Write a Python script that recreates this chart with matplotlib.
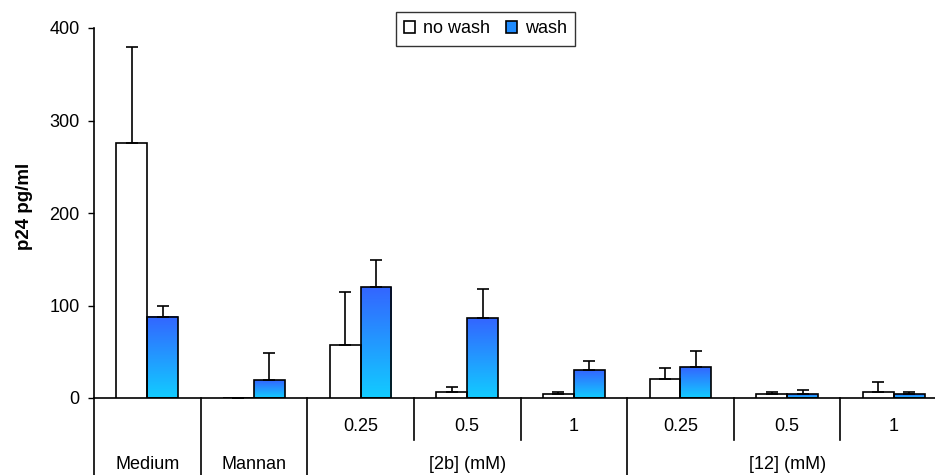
import numpy as np
import matplotlib
matplotlib.use("Agg")
import matplotlib.pyplot as plt
from matplotlib.colors import LinearSegmentedColormap
from matplotlib.patches import Patch

plt.rcParams['font.family'] = ['Liberation Sans', 'DejaVu Sans']
plt.rcParams['font.size'] = 13

# data
sub_labels = ['', '', '0.25', '0.5', '1', '0.25', '0.5', '1']
group_labels = ['Medium', 'Mannan', '[2b] (mM)', '[12] (mM)']
group_spans = [(0, 0), (1, 1), (2, 4), (5, 7)]
no_wash = [276, 0, 57, 7, 4, 21, 4, 7]
no_wash_err = [104, 0, 58, 5, 3, 11, 3, 10]
wash = [88, 19, 120, 86, 30, 33, 4, 4]
wash_err = [11, 30, 29, 32, 10, 18, 5, 3]

blue_grad = LinearSegmentedColormap.from_list('wash', ['#12ccff', '#3366ff'])

fig = plt.figure(figsize=(9.35, 4.75), dpi=100)
ax = fig.add_axes([94 / 935, 77 / 475, 853 / 935, 370 / 475])

x = np.arange(len(no_wash))
w = 0.29

ax.bar(x - w / 2, no_wash, w, facecolor='white', edgecolor='black', linewidth=1.2, zorder=3)
bars = ax.bar(x + w / 2, wash, w, facecolor='none', edgecolor='black', linewidth=1.2, zorder=3)

# gradient fill inside the wash bars
grad = np.linspace(0, 1, 100).reshape(-1, 1)
for b in bars:
    x0, h = b.get_x(), b.get_height()
    if h <= 0:
        continue
    ax.imshow(grad, extent=[x0, x0 + b.get_width(), 0, h], origin='lower',
              aspect='auto', cmap=blue_grad, zorder=2)

ax.errorbar(x - w / 2, no_wash, yerr=[np.zeros(len(x)), no_wash_err], fmt='none',
            ecolor='black', elinewidth=1.2, capsize=4, capthick=1.2, zorder=4)
ax.errorbar(x + w / 2, wash, yerr=[np.zeros(len(x)), wash_err], fmt='none',
            ecolor='black', elinewidth=1.2, capsize=4, capthick=1.2, zorder=4)

ax.set_xlim(-0.5, len(x) - 0.5)
ax.set_ylim(0, 400)
ax.set_yticks([0, 100, 200, 300, 400])
ax.set_xticks([])
ax.tick_params(axis='y', direction='out', length=4.3, width=1, pad=6)
for s in ['top', 'right']:
    ax.spines[s].set_visible(False)
ax.spines['left'].set_linewidth(1.2)
ax.spines['bottom'].set_linewidth(1.2)

ax.set_ylabel('p24 pg/ml', fontweight='bold', fontsize=13.5)
ax.yaxis.set_label_coords(-0.071, 0.519)

# category table below the axis
tr = ax.get_xaxis_transform()
long_seps = [-0.5, 0.5, 1.5, 4.5, 7.5]
short_seps = [2.5, 3.5, 5.5, 6.5]
for sx in long_seps:
    ax.plot([sx, sx], [0, -0.25], transform=tr, color='black', lw=1.2, clip_on=False)
for sx in short_seps:
    ax.plot([sx, sx], [0, -0.1135], transform=tr, color='black', lw=1.2, clip_on=False)
for xi, lab in zip(x, sub_labels):
    ax.text(xi, -0.0757, lab, transform=tr, ha='center', va='center')
for (a, b), lab in zip(group_spans, group_labels):
    ax.text((a + b) / 2, -0.181, lab, transform=tr, ha='center', va='center')

handles = [Patch(facecolor='white', edgecolor='black', linewidth=1.2),
           Patch(facecolor='#1f8cff', edgecolor='black', linewidth=1.2)]
leg = fig.legend(handles, ['no wash', 'wash'], loc='upper center', ncol=2,
                 bbox_to_anchor=(0.519, 0.974), frameon=True, fancybox=False,
                 handlelength=0.6, handleheight=0.6, handletextpad=0.45,
                 columnspacing=0.9, borderpad=0.45, borderaxespad=0, fontsize=13)
leg.get_frame().set_edgecolor('black')
leg.get_frame().set_linewidth(1.0)

fig.savefig('out.png', dpi=100)
